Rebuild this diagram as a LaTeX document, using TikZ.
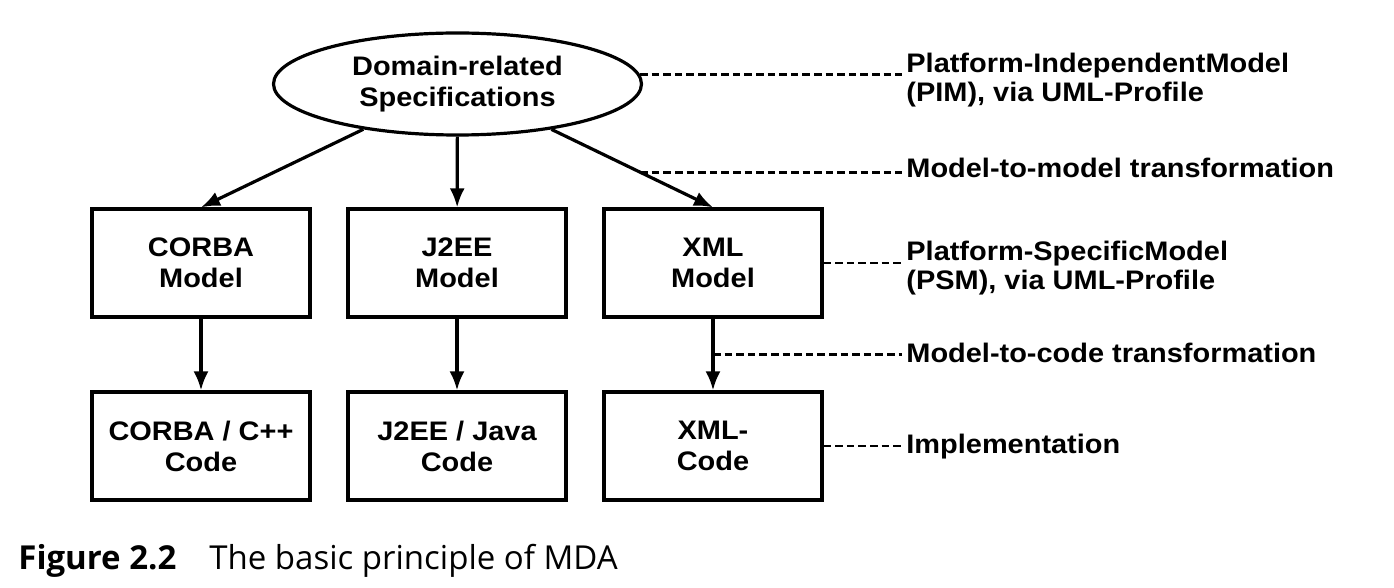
\documentclass[tikz,border=0pt]{standalone}
\usepackage{fontspec}
\setmainfont{Liberation Sans}[FakeStretch=1.08]
\newfontfamily\capfont{Open Sans}
\usetikzlibrary{shapes.geometric,arrows.meta}

\tikzset{
  every node/.style={font=\bfseries\fontsize{13.4}{15.5}\selectfont, align=center},
  spec/.style={draw, ellipse, line width=1.6pt, inner sep=0pt,
    minimum width=184pt, minimum height=51pt},
  model/.style={draw, rectangle, line width=1.6pt, inner sep=0pt,
    minimum width=109pt, minimum height=54pt},
  lbl/.style={anchor=base west, align=left, inner xsep=2pt, inner ysep=0pt,
    font=\bfseries\fontsize{13.4}{14.5}\selectfont},
  dashline/.style={line width=1.4pt, dash pattern=on 3.8pt off 2pt},
}

\begin{document}
\begin{tikzpicture}[x=0.5pt, y=-0.5pt, >={Latex[length=9.5pt,width=7.5pt]}]
  \useasboundingbox (0,0) rectangle (1394,588);
  \draw
    (457.5,84) node[spec] (spec){Domain-related\\Specifications}
    (201,263) node[model] (corbam){CORBA\\Model}
    (457,263) node[model] (j2eem){J2EE\\Model}
    (713,263) node[model] (xmlm){XML\\Model}
    (201,446) node[model] (corbac){CORBA / C++\\Code}
    (457,446) node[model] (j2eec){J2EE / Java\\Code}
    (713,446) node[model] (xmlc){XML-\\Code};
  % base of a two-line label is its second line
  \draw
    (902,102) node[lbl] (pim){Platform-IndependentModel\\(PIM), via UML-Profile}
    (902,178) node[lbl] (mm){Model-to-model transformation}
    (902,290) node[lbl] (psm){Platform-SpecificModel\\(PSM), via UML-Profile}
    (902,363) node[lbl] (mc){Model-to-code transformation}
    (902,454) node[lbl] (impl){Implementation};
  \begin{scope}[->, line width=1.6pt]
    \draw (spec) to (corbam.north);
    \draw (spec) to (j2eem);
    \draw (spec) to coordinate[pos=0.55] (mmpt) (xmlm.north);
    \draw (corbam) to (corbac);
    \draw (j2eem) to (j2eec);
    \draw (xmlm) to coordinate[pos=0.5] (mcpt) (xmlc);
  \end{scope}
  \begin{scope}[dashline]
    \draw (spec.3) to (spec.3 -| pim.west);
    \draw (mmpt) to (mmpt -| mm.west);
    \draw (xmlm.east) to (xmlm.east -| psm.west);
    \draw (mcpt) to (mcpt -| mc.west);
    \draw (xmlc.east) to (xmlc.east -| impl.west);
  \end{scope}
  \node[anchor=base west, inner sep=0pt, font=\capfont\fontsize{16.5}{19}\selectfont]
    (cap) at (18,569) {\textbf{Figure 2.2}\quad The basic principle of MDA};
\end{tikzpicture}
\end{document}
